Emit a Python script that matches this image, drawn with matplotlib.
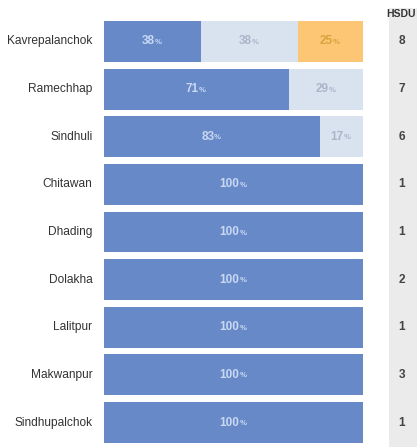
import matplotlib
matplotlib.use("Agg")
import matplotlib.pyplot as plt
import matplotlib.transforms as mtransforms

plt.rcParams['font.family'] = ['Liberation Sans', 'DejaVu Sans']

districts = ["Kavrepalanchok", "Ramechhap", "Sindhuli", "Chitawan", "Dhading",
             "Dolakha", "Lalitpur", "Makwanpur", "Sindhupalchok"]
seg_blue = [37.5, 71.4, 83.3, 100, 100, 100, 100, 100, 100]
seg_light = [37.5, 28.6, 16.7, 0, 0, 0, 0, 0, 0]
seg_orange = [25.0, 0, 0, 0, 0, 0, 0, 0, 0]
hsdu = [8, 7, 6, 1, 1, 2, 1, 3, 1]

W, H = 417, 447
fig = plt.figure(figsize=(W / 100, H / 100), dpi=100)

# HSDU grey column (background axes)
gax = fig.add_axes([389 / W, 0, (W - 389) / W, 1 - 8 / H], zorder=0)
gax.set_facecolor('#ebebeb')
gax.set_xticks([]); gax.set_yticks([])
for s in gax.spines.values():
    s.set_visible(False)

x0, x1 = 104, 363
y0, y1 = 21, 443
ax = fig.add_axes([x0 / W, 1 - y1 / H, (x1 - x0) / W, (y1 - y0) / H], zorder=1)
ax.patch.set_alpha(0)
n = len(districts)
pad = 0.43
ax.set_xlim(0, 100)
ax.set_ylim(n - 1 + pad, -pad)
ax.axis('off')

series = [
    (seg_blue, '#6889c8', '#c8d7f2'),
    (seg_light, '#d9e2ef', '#a9b6ca'),
    (seg_orange, '#fdc674', '#d9a23e'),
]
lefts = [0.0] * n
for vals, col, tcol in series:
    ax.barh(range(n), vals, left=lefts, height=0.86, color=col, linewidth=0)
    for i, v in enumerate(vals):
        if v > 0:
            cx = lefts[i] + v / 2
            t = ax.annotate(f"{v:.0f}", xy=(cx, i), xytext=(-3, 0), textcoords='offset points',
                            ha='center', va='center', fontsize=8.5, fontweight='bold', color=tcol)
            ax.annotate('%', xy=(1, 0.12), xycoords=t, ha='left', va='bottom',
                        fontsize=5.6, fontweight='bold', color=tcol)
    lefts = [l + v for l, v in zip(lefts, vals)]

for i, d in enumerate(districts):
    ax.annotate(d, xy=(0, i), xytext=(-8.3, 0), textcoords='offset points',
                ha='right', va='center', fontsize=8.6, color='#333333')

trans = mtransforms.blended_transform_factory(fig.transFigure, ax.transData)
for i, h in enumerate(hsdu):
    ax.text(402 / W, i, str(h), transform=trans, ha='center', va='center', fontsize=8.6,
            fontweight='bold', color='#444444', clip_on=False)

fig.text(401 / W, 1 - 14 / H, 'HSDU', ha='center', va='center', fontsize=7.5,
         fontweight='heavy', color='#333333', zorder=5)

fig.savefig('out.png', dpi=100)
